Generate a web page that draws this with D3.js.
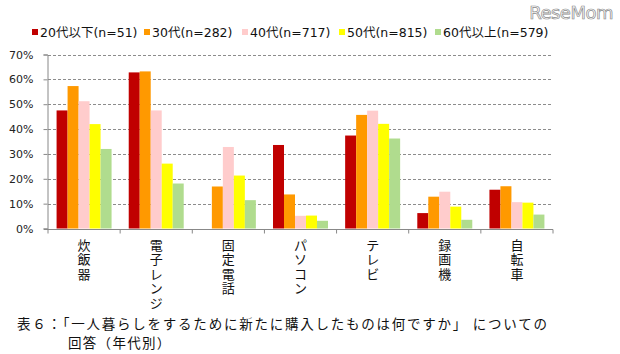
<!DOCTYPE html>
<html>
<head>
<meta charset="utf-8">
<script src="https://cdn.jsdelivr.net/npm/d3@7"></script>
<style>
  body { margin: 0; background: #fff; }
  svg { display: block; }
  text { font-family: "DejaVu Sans", "Noto Sans CJK JP", sans-serif; }
</style>
</head>
<body>
<div id="chart"></div>
<script>
const categories = ["炊飯器", "電子レンジ", "固定電話", "パソコン", "テレビ", "録画機", "自転車"];
const seriesNames = ["20代以下(n=51)", "30代(n=282)", "40代(n=717)", "50代(n=815)", "60代以上(n=579)"];
const seriesColors = ["#c00000", "#ff9900", "#ffcccc", "#ffff00", "#b0dc8e"];

// 値（%）: 各カテゴリごとに年代順
const s20 = [47.5, 62.8, 0, 33.6, 37.4, 6.2, 15.6];
const s30 = [57.3, 63.2, 16.9, 13.7, 45.7, 12.8, 17.0];
const s40 = [51.2, 47.5, 32.8, 5.1, 47.4, 14.8, 10.6];
const s50 = [42.0, 26.1, 21.3, 5.2, 42.1, 8.8, 10.4];
const s60 = [32.0, 18.1, 11.4, 3.1, 36.2, 3.5, 5.6];
const yTicks = [0, 10, 20, 30, 40, 50, 60, 70];

const values = [s20, s30, s40, s50, s60];

const width = 620, height = 354;
const plot = { left: 48, right: 553, top: 54.5, bottom: 228.5 };

const svg = d3.select("#chart").append("svg")
    .attr("width", width)
    .attr("height", height);

const y = d3.scaleLinear()
    .domain([0, 70])
    .range([plot.bottom, plot.top]);

const x0 = d3.scaleBand()
    .domain(categories)
    .range([plot.left, plot.right])
    .paddingInner(0)
    .paddingOuter(0);

const x1 = d3.scaleBand()
    .domain(d3.range(seriesNames.length))
    .range([0, x0.bandwidth()])
    .paddingInner(0)
    .paddingOuter(0.78);

// grid
svg.append("g")
    .selectAll("line")
    .data(yTicks.filter(d => d > 0))
    .enter().append("line")
    .attr("x1", plot.left)
    .attr("x2", plot.right)
    .attr("y1", d => Math.round(y(d)) + 0.5)
    .attr("y2", d => Math.round(y(d)) + 0.5)
    .attr("stroke", "#8c8c8c")
    .attr("stroke-width", 1)
    .attr("stroke-dasharray", "3,2");

// bars
const groups = svg.append("g")
    .selectAll("g")
    .data(categories)
    .enter().append("g")
    .attr("transform", d => `translate(${x0(d)},0)`);

groups.selectAll("rect")
    .data((c, ci) => values.map((s, si) => ({ si, v: s[ci] })))
    .enter().append("rect")
    .attr("x", d => x1(d.si))
    .attr("width", x1.bandwidth())
    .attr("y", d => y(d.v))
    .attr("height", d => y(0) - y(d.v))
    .attr("fill", d => seriesColors[d.si]);

// y axis
const yAxis = svg.append("g")
    .attr("transform", `translate(${plot.left - 0.5},0)`)
    .call(d3.axisLeft(y)
        .tickValues(yTicks)
        .tickSize(4)
        .tickPadding(10)
        .tickFormat(d => d + "%"));
yAxis.select(".domain").attr("stroke", "#888");
yAxis.selectAll(".tick line").attr("stroke", "#888");
yAxis.selectAll(".tick text")
    .attr("fill", "#222")
    .style("font-size", "11px");

// x axis
const xAxis = svg.append("g")
    .attr("transform", `translate(0,${Math.round(plot.bottom) + 0.5})`);
xAxis.append("line")
    .attr("x1", plot.left - 4)
    .attr("x2", plot.right)
    .attr("stroke", "#888");
xAxis.selectAll(".xt")
    .data(categories.map(c => x0(c)).concat([plot.right]))
    .enter().append("line")
    .attr("class", "xt")
    .attr("x1", d => d)
    .attr("x2", d => d)
    .attr("y1", 0)
    .attr("y2", 4)
    .attr("stroke", "#888");

// vertical category labels
const labels = svg.append("g")
    .selectAll("text")
    .data(categories)
    .enter().append("text")
    .attr("text-anchor", "middle")
    .attr("fill", "#111")
    .style("font-size", "13px");

labels.each(function(c) {
    const t = d3.select(this);
    const cx = x0(c) + x0.bandwidth() / 2;
    Array.from(c).forEach((ch, i) => {
        t.append("tspan")
            .attr("x", cx)
            .attr("y", 249.5 + i * 14.5)
            .text(ch);
    });
});

// legend
const legendX = [32, 144, 242, 339, 435];
const legend = svg.append("g")
    .selectAll("g")
    .data(seriesNames)
    .enter().append("g")
    .attr("transform", (d, i) => `translate(${legendX[i]},32)`);
legend.append("rect")
    .attr("x", 0)
    .attr("y", -3)
    .attr("width", 6)
    .attr("height", 6)
    .attr("fill", (d, i) => seriesColors[i]);
legend.append("text")
    .attr("x", 8)
    .attr("y", 4.5)
    .attr("fill", "#111")
    .style("font-size", "12.5px")
    .text(d => d);

// watermark
svg.append("text")
    .attr("x", 613)
    .attr("y", 19)
    .attr("text-anchor", "end")
    .attr("fill", "#fff")
    .attr("stroke", "#8a8a8a")
    .attr("stroke-width", 0.7)
    .style("font-family", "'DejaVu Sans', sans-serif")
    .style("font-size", "18px")
    .style("letter-spacing", "-0.5px")
    .text("ReseMom");

// caption
svg.append("text")
    .attr("x", 17)
    .attr("y", 329)
    .attr("fill", "#111")
    .attr("textLength", 530)
    .attr("lengthAdjust", "spacing")
    .style("font-family", "'Noto Sans CJK JP', sans-serif")
    .style("font-size", "13.5px")
    .text("表６：「一人暮らしをするために新たに購入したものは何ですか」 についての");
svg.append("text")
    .attr("x", 68)
    .attr("y", 348)
    .attr("fill", "#111")
    .style("font-family", "'Noto Sans CJK JP', sans-serif")
    .style("font-size", "13.5px")
    .style("letter-spacing", "1.3px")
    .text("回答（年代別）");
</script>
</body>
</html>
